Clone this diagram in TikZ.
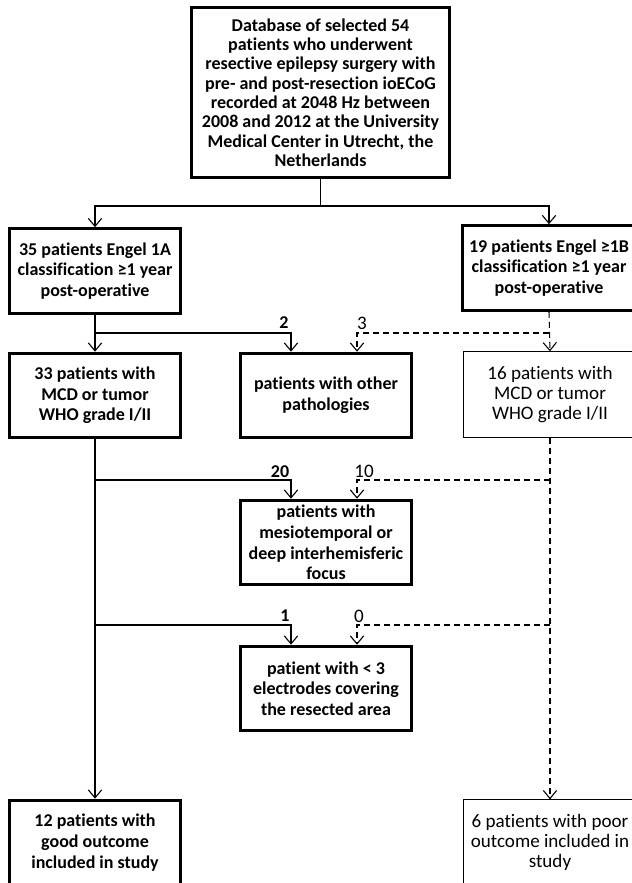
\documentclass[tikz,border=0pt]{standalone}
\usepackage{fontspec}
\setmainfont[Ligatures={CommonOff,ContextualOff}]{Carlito}
\usetikzlibrary{arrows.meta,calc}
\newcommand{\fsz}{\fontsize{13.5}{15.5}\selectfont}
\newcommand{\fszr}{\fontsize{14.3}{14.8}\selectfont}
\begin{document}
\begin{tikzpicture}[x=0.75pt,y=-0.75pt,
  box/.style={draw,line width=2.2pt,align=center,inner sep=0pt,font=\fsz\bfseries,
    minimum width=128.25pt,minimum height=63.5pt},
  thinbox/.style={draw,line width=0.8pt,align=center,inner sep=0pt,font=\fszr,
    minimum width=130pt,minimum height=64pt},
  conn/.style={line width=0.8pt,-{Straight Barb[length=6pt,width=10pt,line width=0.8pt]}},
  dconn/.style={conn,dash pattern=on 4.5pt off 3pt},
  plain/.style={line width=0.8pt},
  lab/.style={inner sep=0pt,font=\fszr},
  blab/.style={inner sep=0pt,font=\fsz\bfseries}]
\path[use as bounding box,fill=white] (0,0) rectangle (632,883);
\clip (0,0) rectangle (632,883);

\node[box,minimum width=193.5pt,minimum height=127.5pt,font=\fontsize{13.5}{14.5}\selectfont\bfseries] (top) at (320.5,92.5)
  {Database of selected 54\\patients who underwent\\resective epilepsy surgery with\\pre- and post-resection ioECoG\\recorded at 2048 Hz between\\2008 and 2012 at the University\\Medical Center in Utrecht, the\\Netherlands};

\node[box] (b35) at (95,271) {35 patients Engel 1A\\classification ≥1 year\\post-operative};
\node[box,minimum width=129.75pt] (b19) at (549,268) {19 patients Engel ≥1B\\classification ≥1 year\\post-operative};

\node[box] (b33) at (95,395.5) {33 patients with\\MCD or tumor\\WHO grade I/II};
\node[box] (bpath) at (326,395.5) {patients with other\\pathologies};
\node[thinbox] (b16) at (550,394.5) {16 patients with\\MCD or tumor\\WHO grade I/II};

\node[box] (bmesio) at (326,542.5) {patients with\\mesiotemporal or\\deep interhemisferic\\focus};
\node[box] (bpat) at (326,688.5) {patient with < 3\\electrodes covering\\the resected area};

\node[box] (b12) at (95,842.5) {12 patients with\\good outcome\\included in study};
\node[thinbox] (b6) at (550,842.5) {6 patients with poor\\outcome included in\\study};

\coordinate (j0) at (320.5,206);
\coordinate (y1) at (0,333);
\coordinate (y2) at (0,480);
\coordinate (y3) at (0,625);

\draw[plain] (top.south) -- (j0);
\draw[conn] (j0) -| (b35.north);
\draw[conn] (j0) -| (b19.north);

\draw[conn] (b35.south) -- (b33.north);
\draw[conn] (b35.south |- y1) -| ($(bpath.north)+(-35,0)$);
\draw[dconn] (b19.south) -- (b16.north);
\draw[dconn] (b19.south |- y1) -| ($(bpath.north)+(31,0)$);

\draw[conn] (b33.south) -- (b12.north);
\draw[conn] (b33.south |- y2) -| ($(bmesio.north)+(-35,0)$);
\draw[conn] (b33.south |- y3) -| ($(bpat.north)+(-35,0)$);
\draw[dconn] (b16.south) -- (b6.north);
\draw[dconn] (b16.south |- y2) -| ($(bmesio.north)+(31,0)$);
\draw[dconn] (b16.south |- y3) -| ($(bpat.north)+(31,0)$);

\node[blab] (l2) at (284,323) {2};
\node[lab] (l3) at (362,323) {3};
\node[blab] (l20) at (280,472) {20};
\node[lab] (l10) at (364,471) {10};
\node[blab] (l1) at (285,616) {1};
\node[lab] (l0) at (359,616) {0};
\end{tikzpicture}
\end{document}
